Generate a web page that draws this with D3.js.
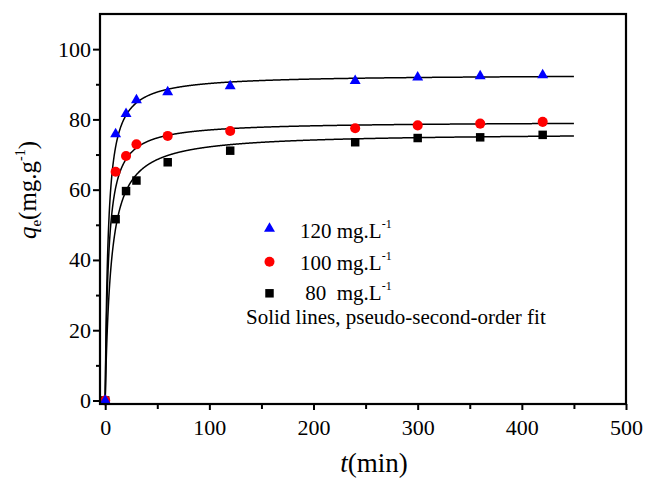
<!DOCTYPE html>
<html>
<head>
<meta charset="utf-8">
<script src="https://cdn.jsdelivr.net/npm/d3@7"></script>
<style>
  html, body { margin: 0; padding: 0; background: #fff; }
  svg { display: block; font-family: "Liberation Serif", "Times New Roman", serif; }
  text { white-space: pre; }
</style>
</head>
<body>
<svg id="chart" width="646" height="479"></svg>
<script>
// Contact time (min)
const time = [0, 10, 20, 30, 60, 120, 240, 300, 360, 420];
// Adsorbed amount q_t (mg/g) for each initial concentration
const q120 = [0, 75.8, 81.6, 85.5, 87.8, 89.5, 91.0, 92.0, 92.3, 92.6];
const q100 = [0, 65.1, 69.6, 72.9, 75.3, 76.7, 77.5, 78.3, 78.8, 79.3];
const q80  = [0, 51.6, 59.6, 62.6, 67.8, 71.1, 73.5, 74.7, 74.9, 75.6];
// Pseudo-second-order parameters: equilibrium uptake qe (mg/g) and rate constant k2 (g/(mg·min))
const fitQe = [92.8, 79.4, 76.2];
const fitK2 = [0.00377, 0.00403, 0.00236];
const fitTmax = 450;
// Legend entries and axis ticks
const legendLabels = ["120 mg.L", "100 mg.L", " 80  mg.L"];
const noteText = "Solid lines, pseudo-second-order fit";
const xTicks = [0, 100, 200, 300, 400, 500];
const xMinor = [50, 150, 250, 350, 450];
const yTicks = [0, 20, 40, 60, 80, 100];
const yMinor = [10, 30, 50, 70, 90];

(function draw() {
const svg = d3.select("#chart");
const mLeft = 100, mRight = 626, mTop = 14, mBottom = 404;

const x = d3.scaleLinear().domain([-5, 500]).range([mLeft, mRight]);
const y = d3.scaleLinear().domain([-1, 110]).range([mBottom, mTop]);

const series = [
  { values: q80,  color: "#000000", symbol: d3.symbolSquare,   size: 72, qe: fitQe[2], k: fitK2[2] },
  { values: q100, color: "#ff0000", symbol: d3.symbolCircle,   size: 79, qe: fitQe[1], k: fitK2[1] },
  { values: q120, color: "#0000ff", symbol: d3.symbolTriangle, size: 52, qe: fitQe[0], k: fitK2[0] }
];

// Fitted curves: q(t) = k qe^2 t / (1 + k qe t)
const tGrid = d3.range(0, fitTmax + 0.001, 0.25);
const line = d3.line().x(d => x(d[0])).y(d => y(d[1]));
series.forEach(s => {
  const pts = tGrid.map(t => [t, s.k * s.qe * s.qe * t / (1 + s.k * s.qe * t)]);
  svg.append("path")
    .attr("d", line(pts))
    .attr("fill", "none")
    .attr("stroke", "#000")
    .attr("stroke-width", 1.5);
});

// Experimental points
series.forEach(s => {
  svg.append("g").selectAll("path")
    .data(time.map((t, i) => [t, s.values[i]]))
    .join("path")
    .attr("d", d3.symbol().type(s.symbol).size(s.size))
    .attr("transform", d => `translate(${x(d[0])},${y(d[1])})`)
    .attr("fill", s.color);
});

// Axes (outward ticks on bottom and left)
const xAxis = svg.append("g").attr("transform", `translate(0,${mBottom})`)
  .call(d3.axisBottom(x).tickValues(xTicks).tickSize(6).tickPadding(9).tickFormat(d3.format("d")));
svg.append("g").attr("transform", `translate(0,${mBottom})`)
  .call(d3.axisBottom(x).tickValues(xMinor).tickSize(5).tickFormat(""));
const yAxis = svg.append("g").attr("transform", `translate(${mLeft},0)`)
  .call(d3.axisLeft(y).tickValues(yTicks).tickSize(7).tickPadding(2).tickFormat(d3.format("d")));
svg.append("g").attr("transform", `translate(${mLeft},0)`)
  .call(d3.axisLeft(y).tickValues(yMinor).tickSize(4).tickFormat(""));

svg.selectAll(".domain").remove();
svg.selectAll(".tick line").attr("stroke", "#000").attr("stroke-width", 2);
xAxis.selectAll(".tick text").attr("font-size", 22).attr("fill", "#000")
  .attr("font-family", "Liberation Serif, Times New Roman, serif");
yAxis.selectAll(".tick text").attr("font-size", 22).attr("fill", "#000")
  .attr("font-family", "Liberation Serif, Times New Roman, serif");

// Plot frame
svg.append("rect")
  .attr("x", mLeft).attr("y", mTop)
  .attr("width", mRight - mLeft).attr("height", mBottom - mTop)
  .attr("fill", "none").attr("stroke", "#000").attr("stroke-width", 2.2);

// Legend
const legendRows = [
  { s: series[2], label: legendLabels[0], sy: 228.5, ty: 238 },
  { s: series[1], label: legendLabels[1], sy: 261.7, ty: 270 },
  { s: series[0], label: legendLabels[2], sy: 293.3, ty: 300 }
];
legendRows.forEach(r => {
  svg.append("path")
    .attr("d", d3.symbol().type(r.s.symbol).size(r.s.size))
    .attr("transform", `translate(269.5,${r.sy})`)
    .attr("fill", r.s.color);
  const t = svg.append("text")
    .attr("x", 300).attr("y", r.ty)
    .attr("font-size", 21).attr("fill", "#000");
  t.append("tspan").text(r.label);
  t.append("tspan").attr("dy", -10).attr("font-size", 12).text("-1");
});
svg.append("text")
  .attr("x", 246).attr("y", 324)
  .attr("font-size", 21).attr("fill", "#000")
  .text(noteText);

// Axis titles
const xt = svg.append("text")
  .attr("x", 374).attr("y", 472)
  .attr("text-anchor", "middle")
  .attr("font-size", 27).attr("fill", "#000");
xt.append("tspan").attr("font-style", "italic").text("t");
xt.append("tspan").text("(min)");

const yt = svg.append("text")
  .attr("transform", "translate(36,190) rotate(-90)")
  .attr("text-anchor", "middle")
  .attr("font-size", 25).attr("fill", "#000");
yt.append("tspan").attr("font-style", "italic").text("q");
yt.append("tspan").attr("font-size", 15).attr("dy", 5).text("e");
yt.append("tspan").attr("dy", -5).text("(mg.g");
yt.append("tspan").attr("font-size", 14).attr("dy", -11).text("-1");
yt.append("tspan").attr("dy", 11).text(")");
})();
</script>
</body>
</html>
